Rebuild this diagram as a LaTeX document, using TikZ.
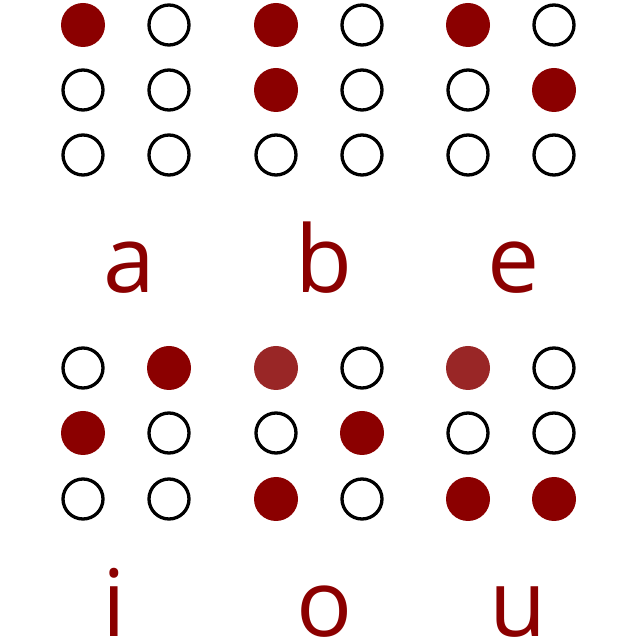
\documentclass[tikz,border=0pt]{standalone}
\usepackage{fontspec}
\setmainfont{Open Sans}
\definecolor{dred}{RGB}{139,0,0}
\definecolor{lred}{RGB}{153,38,38}
\tikzset{
 full/.style={circle, fill=dred, minimum size=44pt, inner sep=0pt},
 pale/.style={circle, fill=lred, minimum size=44pt, inner sep=0pt},
 hole/.style={circle, draw=black, line width=3.3pt, minimum size=40pt, inner sep=0pt},
 letter/.style={text=dred, font=\fontsize{93}{93}\selectfont, anchor=base west, inner sep=0pt}
}
\begin{document}
\begin{tikzpicture}[x=1pt,y=1pt]
\useasboundingbox (0,0) rectangle (640,640);
% a
\node[full] (a1) at (83,615) {};
\node[hole] (a4) at (169,615) {};
\node[hole] (a2) at (83,550) {};
\node[hole] (a5) at (169,550) {};
\node[hole] (a3) at (83,485) {};
\node[hole] (a6) at (169,485) {};
% b
\node[full] (b1) at (276,615) {};
\node[hole] (b4) at (362,615) {};
\node[full] (b2) at (276,550) {};
\node[hole] (b5) at (362,550) {};
\node[hole] (b3) at (276,485) {};
\node[hole] (b6) at (362,485) {};
% e
\node[full] (e1) at (468,615) {};
\node[hole] (e4) at (554,615) {};
\node[hole] (e2) at (468,550) {};
\node[full] (e5) at (554,550) {};
\node[hole] (e3) at (468,485) {};
\node[hole] (e6) at (554,485) {};
% i
\node[hole] (i1) at (83,272) {};
\node[full] (i4) at (169,272) {};
\node[full] (i2) at (83,207) {};
\node[hole] (i5) at (169,207) {};
\node[hole] (i3) at (83,141) {};
\node[hole] (i6) at (169,141) {};
% o
\node[pale] (o1) at (276,272) {};
\node[hole] (o4) at (362,272) {};
\node[hole] (o2) at (276,207) {};
\node[full] (o5) at (362,207) {};
\node[full] (o3) at (276,141) {};
\node[hole] (o6) at (362,141) {};
% u
\node[pale] (u1) at (468,272) {};
\node[hole] (u4) at (554,272) {};
\node[hole] (u2) at (468,207) {};
\node[hole] (u5) at (554,207) {};
\node[full] (u3) at (468,141) {};
\node[full] (u6) at (554,141) {};
% letters
\node[letter] (la) at (103,347) {a};
\node[letter] (lb) at (295,347) {b};
\node[letter] (le) at (487,347) {e};
\node[letter] (li) at (102,3) {i};
\node[letter] (lo) at (296,3) {o};
\node[letter] (lu) at (489,3) {u};
\end{tikzpicture}
\end{document}
